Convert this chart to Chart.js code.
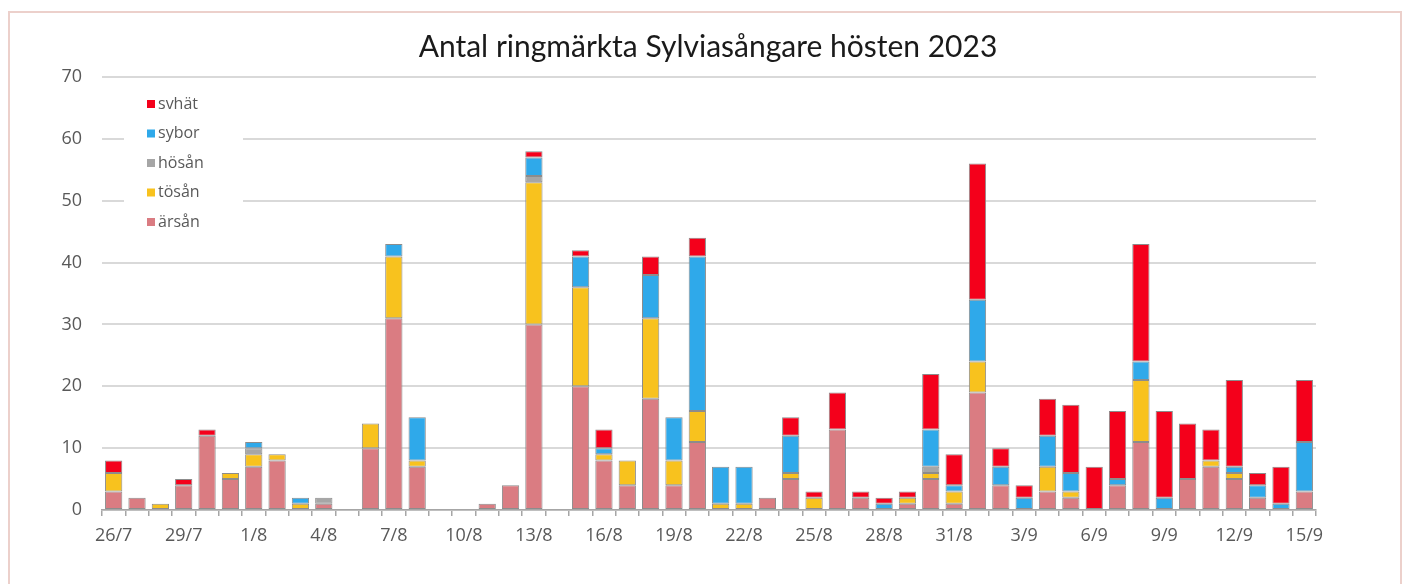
<!DOCTYPE html>
<html lang="sv">
<head>
  <meta charset="UTF-8" />
  <title>Antal ringmärkta Sylviasångare hösten 2023</title>
  <script src="https://cdn.jsdelivr.net/npm/chart.js"></script>
  <style>
    html, body { margin: 0; padding: 0; background: #fff; }
    .frame {
      position: absolute; left: 8px; top: 11px; width: 1390px; height: 600px;
      border: 2px solid #ecd0cb;
    }
    .wrap { position: absolute; left: 0; top: 0; width: 1405px; height: 584px; }
  </style>
</head>
<body>
  <div class="frame"></div>
  <div class="wrap"><canvas id="chart" width="1405" height="584"></canvas></div>

  <script>
    const chartTitle = 'Antal ringmärkta Sylviasångare hösten 2023';

    const days = [
      '26/7','27/7','28/7','29/7','30/7','31/7',
      '1/8','2/8','3/8','4/8','5/8','6/8','7/8','8/8','9/8','10/8',
      '11/8','12/8','13/8','14/8','15/8','16/8','17/8','18/8','19/8','20/8',
      '21/8','22/8','23/8','24/8','25/8','26/8','27/8','28/8','29/8','30/8','31/8',
      '1/9','2/9','3/9','4/9','5/9','6/9','7/9','8/9','9/9','10/9',
      '11/9','12/9','13/9','14/9','15/9'
    ];

    const arsan = [3,2,0,4,12,5, 7,8,0,1,0,10,31,7,0,0, 1,4,30,0,20,8,4,18,4,11,
                   0,0,2,5,0,13,2,0,1,5,1, 19,4,0,3,2,0,4,11,0,5, 7,5,2,0,3];
    const tosan = [3,0,1,0,0,1, 2,1,1,0,0,4,10,1,0,0, 0,0,23,0,16,1,4,13,4,5,
                   1,1,0,1,2,0,0,0,1,1,2, 5,0,0,4,1,0,0,10,0,0, 1,1,0,0,0];
    const hosan = [0,0,0,0,0,0, 1,0,0,1,0,0,0,0,0,0, 0,0,1,0,0,0,0,0,0,0,
                   0,0,0,0,0,0,0,0,0,1,0, 0,0,0,0,0,0,0,0,0,0, 0,0,0,0,0];
    const sybor = [0,0,0,0,0,0, 1,0,1,0,0,0,2,7,0,0, 0,0,3,0,5,1,0,7,7,25,
                   6,6,0,6,0,0,0,1,0,6,1, 10,3,2,5,3,0,1,3,2,0, 0,1,2,1,8];
    const svhat = [2,0,0,1,1,0, 0,0,0,0,0,0,0,0,0,0, 0,0,1,0,1,3,0,3,0,3,
                   0,0,0,3,1,6,1,1,1,9,5, 22,3,2,6,11,7,11,19,14,9, 5,14,2,6,10];

    const seriesNames = ['ärsån', 'tösån', 'hösån', 'sybor', 'svhät'];
    const seriesColors = ['#da7c82', '#f8c21e', '#a6a6a6', '#2fa9ea', '#f4001b'];
    const yTicks = [0, 10, 20, 30, 40, 50, 60, 70];

    const textGray = '#595959';
    const axisFont = { family: "'Open Sans', sans-serif", size: 18 };

    // title centred over the whole frame, not just the plot
    const frameTitle = {
      id: 'frameTitle',
      afterDraw(chart) {
        const ctx = chart.ctx;
        ctx.save();
        ctx.font = "30px Lato, sans-serif";
        ctx.fillStyle = '#1a1a1a';
        ctx.textAlign = 'center';
        ctx.textBaseline = 'middle';
        ctx.fillText(chartTitle, 708, 47);
        ctx.restore();
      }
    };

    // legend drawn inside the plot area, top series first (like Excel)
    const insideLegend = {
      id: 'insideLegend',
      afterDatasetsDraw(chart) {
        const ctx = chart.ctx;
        ctx.save();
        ctx.fillStyle = '#fff';
        ctx.fillRect(124, 88, 119, 148);
        ctx.font = "16px 'Open Sans', sans-serif";
        ctx.textBaseline = 'middle';
        const sets = chart.data.datasets.slice().reverse();
        sets.forEach((ds, i) => {
          const y = 104 + i * 29.5;
          ctx.fillStyle = ds.backgroundColor;
          ctx.fillRect(147, y - 4, 8, 8);
          ctx.fillStyle = textGray;
          ctx.fillText(ds.label, 158, y);
        });
        ctx.restore();
      }
    };

    const seriesData = [arsan, tosan, hosan, sybor, svhat];

    new Chart(document.getElementById('chart'), {
      type: 'bar',
      data: {
        labels: days,
        datasets: seriesNames.map((name, i) => ({
          label: name,
          data: seriesData[i].map(v => v === 0 ? null : v),
          backgroundColor: seriesColors[i],
          borderColor: '#8c8c8c',
          borderWidth: 1,
          borderSkipped: false,
          barPercentage: 0.74,
          categoryPercentage: 1.0
        }))
      },
      options: {
        responsive: false,
        animation: false,
        layout: { padding: { top: 77, left: 0, right: 89, bottom: 0 } },
        plugins: {
          legend: { display: false },
          tooltip: { enabled: false },
          title: { display: false }
        },
        scales: {
          x: {
            stacked: true,
            afterFit(scale) { scale.height = 74; },
            border: { color: '#a6a6a6', width: 1.5 },
            grid: {
              offset: true,
              drawOnChartArea: false,
              drawTicks: true,
              tickLength: 6,
              color: '#a6a6a6',
              lineWidth: 1.5
            },
            ticks: {
              autoSkip: false,
              maxRotation: 0,
              minRotation: 0,
              padding: 9,
              color: textGray,
              font: axisFont,
              callback(value, index) {
                return index % 3 === 0 ? days[index] : '';
              }
            }
          },
          y: {
            stacked: true,
            min: yTicks[0],
            max: yTicks[yTicks.length - 1],
            afterFit(scale) { scale.width = 102; },
            afterBuildTicks(scale) { scale.ticks = yTicks.map(v => ({ value: v })); },
            border: { display: false },
            grid: { color: '#d9d9d9', lineWidth: 2, drawTicks: false },
            ticks: { padding: 20, color: textGray, font: axisFont }
          }
        }
      },
      plugins: [insideLegend, frameTitle]
    });
  </script>
</body>
</html>
